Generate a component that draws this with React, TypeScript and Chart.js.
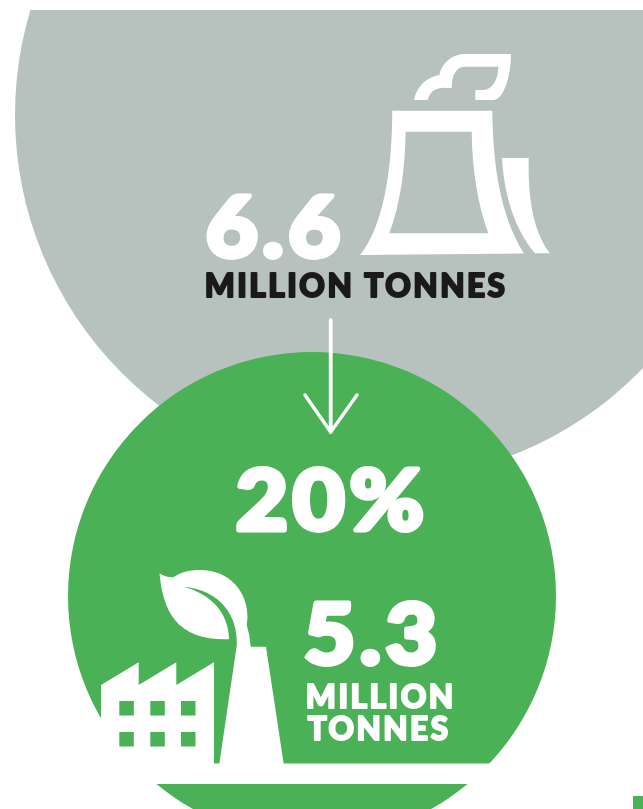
import React, { useEffect, useRef } from "react";
import { Chart, registerables } from "chart.js";

Chart.register(...registerables);

// Data
const stages = ["Today", "After reduction"];
const tonnesMillions = [6.6, 5.3];
const reductionLabel = "20%";
const beforeLabel = "6.6";
const afterLabel = "5.3";
const unitLine = "MILLION TONNES";
const unitWords = ["MILLION", "TONNES"];

const WIDTH = 643;
const HEIGHT = 809;
const GREY = "#b7c1bd";
const GREEN = "#4ab156";
const DARK = "#1a1a1a";
const WHITE = "#ffffff";
const FONT = '"Lato", "Open Sans", sans-serif';

// Layout of the two discs
const discRadius = [365, 244];
const discCenterX = [380, 312];
const discCenterY = [115, 596];
const unitY = (discCenterY[1] - discCenterY[0]) / (tonnesMillions[0] - tonnesMillions[1]);
const yMax = tonnesMillions[0] + discCenterY[0] / unitY;
const yMin = yMax - HEIGHT / unitY;
const unitX = discCenterX[0] - discCenterX[1];
const xMax = discCenterX[0] / unitX;
const xMin = xMax - WIDTH / unitX;

type Ctx = CanvasRenderingContext2D;

function fitText(
  ctx: Ctx,
  text: string,
  left: number,
  right: number,
  top: number,
  bottom: number,
  color: string,
  weight: number,
  bold: number,
  spacing: number
) {
  ctx.save();
  ctx.font = `${weight} 100px ${FONT}`;
  (ctx as any).letterSpacing = `${spacing}px`;
  const m = ctx.measureText(text);
  const inkH = m.actualBoundingBoxAscent + m.actualBoundingBoxDescent;
  const inkW = m.actualBoundingBoxLeft + m.actualBoundingBoxRight;
  const sy = (bottom - top - bold) / inkH;
  const sx = (right - left - bold) / inkW;
  ctx.translate(left + bold / 2 + m.actualBoundingBoxLeft * sx, bottom - bold / 2 - m.actualBoundingBoxDescent * sy);
  ctx.scale(sx, sy);
  ctx.fillStyle = color;
  ctx.textBaseline = "alphabetic";
  ctx.textAlign = "left";
  ctx.fillText(text, 0, 0);
  if (bold > 0) {
    ctx.strokeStyle = color;
    ctx.lineJoin = "round";
    ctx.lineWidth = bold / ((sx + sy) / 2);
    ctx.strokeText(text, 0, 0);
  }
  ctx.restore();
}

function drawTower(ctx: Ctx) {
  ctx.fillStyle = WHITE;
  // Main tower with its opening
  ctx.beginPath();
  ctx.moveTo(392.3, 110.7);
  ctx.lineTo(492.3, 110.7);
  ctx.bezierCurveTo(493, 165, 500, 215, 524, 253.5);
  ctx.lineTo(360, 255);
  ctx.bezierCurveTo(382, 228, 392, 175, 392.3, 110.7);
  ctx.closePath();
  ctx.moveTo(405.7, 131.7);
  ctx.bezierCurveTo(405, 170, 400, 205, 389.3, 233.3);
  ctx.lineTo(488.3, 233.3);
  ctx.bezierCurveTo(478, 205, 472, 170, 471.7, 131.7);
  ctx.closePath();
  ctx.fill("evenodd");
  // Second tower behind
  ctx.beginPath();
  ctx.moveTo(502, 158);
  ctx.lineTo(528.7, 158);
  ctx.bezierCurveTo(528, 195, 532, 230, 550, 253.3);
  ctx.lineTo(535, 253.3);
  ctx.bezierCurveTo(515, 230, 504, 195, 502, 158);
  ctx.closePath();
  ctx.fill();
  // Steam
  ctx.beginPath();
  ctx.moveTo(414.3, 100);
  ctx.bezierCurveTo(416, 87, 427, 77, 439.3, 75);
  ctx.bezierCurveTo(442, 62, 453, 54, 465, 54);
  ctx.lineTo(511, 54);
  ctx.bezierCurveTo(511, 78, 503, 100, 493.3, 100);
  ctx.lineTo(475.3, 100);
  ctx.lineTo(475.3, 90);
  ctx.lineTo(483, 90);
  ctx.bezierCurveTo(492, 90, 498, 80, 498.3, 66.7);
  ctx.lineTo(465, 66.7);
  ctx.bezierCurveTo(457, 66.7, 451.7, 74, 451.7, 88.3);
  ctx.bezierCurveTo(438, 86, 430, 90, 427.7, 100);
  ctx.closePath();
  ctx.fill();
}

function drawFactory(ctx: Ctx) {
  ctx.fillStyle = WHITE;
  ctx.beginPath();
  ctx.moveTo(101, 685);
  ctx.lineTo(138.7, 662.3);
  ctx.lineTo(138.7, 685);
  ctx.lineTo(176.3, 662.3);
  ctx.lineTo(176.3, 685);
  ctx.lineTo(214, 662.3);
  ctx.lineTo(214, 764);
  ctx.lineTo(101, 764);
  ctx.closePath();
  ctx.fill();
  ctx.fillStyle = GREEN;
  for (const x of [119.3, 150.3, 181]) {
    for (const y of [701, 732]) ctx.fillRect(x, y, 14.5, 14.5);
  }
  // Leaf and chimney
  ctx.fillStyle = WHITE;
  ctx.beginPath();
  ctx.moveTo(159.5, 573.3);
  ctx.quadraticCurveTo(167, 578, 174, 577);
  ctx.bezierCurveTo(182, 571, 192, 570, 200, 570);
  ctx.bezierCurveTo(230, 570, 248, 592, 247.5, 618);
  ctx.lineTo(246.7, 625);
  ctx.quadraticCurveTo(250, 635, 250.7, 646.7);
  ctx.lineTo(266, 646.7);
  ctx.lineTo(283.7, 764);
  ctx.lineTo(219.3, 764);
  ctx.lineTo(236.8, 645);
  ctx.bezierCurveTo(238, 615, 220, 590, 183.3, 586.7);
  ctx.bezierCurveTo(212, 594, 229, 614, 229, 639.3);
  ctx.bezierCurveTo(205, 640, 186, 634, 175, 620);
  ctx.bezierCurveTo(165, 608, 161, 590, 159.5, 573.3);
  ctx.closePath();
  ctx.fill();
}

function drawArrow(ctx: Ctx) {
  ctx.strokeStyle = WHITE;
  ctx.lineCap = "round";
  ctx.lineJoin = "round";
  ctx.lineWidth = 3.8;
  ctx.beginPath();
  ctx.moveTo(330.7, 320);
  ctx.lineTo(330.7, 432);
  ctx.stroke();
  ctx.lineWidth = 3.4;
  ctx.beginPath();
  ctx.moveTo(305, 395);
  ctx.lineTo(330.7, 432);
  ctx.lineTo(357, 395);
  ctx.stroke();
}

const infographic = {
  id: "infographic",
  afterDatasetsDraw(chart: Chart) {
    const ctx = chart.ctx;
    ctx.save();
    ctx.fillStyle = WHITE;
    ctx.fillRect(0, 0, WIDTH, 10);
    ctx.fillRect(0, 763.5, WIDTH, 20.5);
    ctx.fillStyle = GREEN;
    ctx.fillRect(633, 796, 10, 13);
    drawTower(ctx);
    drawFactory(ctx);
    drawArrow(ctx);
    fitText(ctx, beforeLabel, 206, 341, 194, 260, WHITE, 900, 5, 5);
    fitText(ctx, unitLine, 206, 505, 273, 298.5, DARK, 900, 2, 8);
    fitText(ctx, reductionLabel, 236, 424, 466, 533, WHITE, 900, 5, 5);
    fitText(ctx, afterLabel, 304, 436, 600, 667, WHITE, 900, 5, 5);
    fitText(ctx, unitWords[0], 307, 452, 683, 709, WHITE, 900, 2, 8);
    fitText(ctx, unitWords[1], 307, 448, 715, 741, WHITE, 900, 2, 8);
    ctx.restore();
  },
};

export default function App() {
  const ref = useRef<HTMLCanvasElement>(null);
  useEffect(() => {
    const chart = new Chart(ref.current as HTMLCanvasElement, {
      type: "bubble",
      data: {
        labels: stages,
        datasets: [
          {
            label: "Million tonnes",
            data: tonnesMillions.map((v, i) => ({ x: i, y: v, r: discRadius[i] })),
            backgroundColor: [GREY, GREEN],
            borderWidth: 0,
            radius: 0,
            clip: false,
          },
        ],
      },
      options: {
        animation: false,
        responsive: false,
        devicePixelRatio: 1,
        layout: { padding: 0, autoPadding: false },
        plugins: { legend: { display: false }, tooltip: { enabled: false } },
        events: [],
        scales: {
          x: { type: "linear", display: false, reverse: true, min: xMin, max: xMax },
          y: { type: "linear", display: false, min: yMin, max: yMax },
        },
      },
      plugins: [infographic],
    } as any);
    return () => chart.destroy();
  }, []);
  return (
    <canvas
      ref={ref}
      width={WIDTH}
      height={HEIGHT}
      style={{ position: "fixed", left: 0, top: 0, width: WIDTH, height: HEIGHT, display: "block" }}
    />
  );
}
